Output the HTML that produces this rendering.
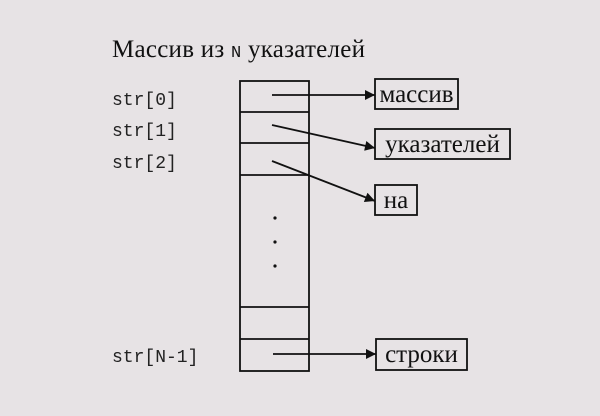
<!DOCTYPE html>
<html><head><meta charset="utf-8"><style>
html,body{margin:0;padding:0;background:#e7e3e5;}
svg{display:block}
</style></head><body>
<svg width="600" height="416" xmlns="http://www.w3.org/2000/svg">
<rect width="600" height="416" fill="#e7e3e5"/>
<defs><marker id="a" viewBox="0 0 10 10" refX="10" refY="5" markerWidth="13" markerHeight="10" markerUnits="userSpaceOnUse" orient="auto"><path d="M0,0 L10,5 L0,10 z" fill="#111"/></marker></defs>
<text x="112" y="57" font-family="Liberation Serif, serif" font-size="25" fill="#111" textLength="253">Массив из <tspan font-family="Liberation Mono, monospace" font-size="17">N</tspan> указателей</text>
<g font-family="Liberation Mono, DejaVu Sans Mono, monospace" font-size="18" fill="#222">
<text x="112" y="105">str[0]</text>
<text x="112" y="136">str[1]</text>
<text x="112" y="168">str[2]</text>
<text x="112" y="362">str[N-1]</text>
</g>
<g stroke="#111" stroke-width="1.8" fill="none">
<rect x="240" y="81" width="69" height="290"/>
<line x1="240" y1="112" x2="309" y2="112"/>
<line x1="240" y1="143" x2="309" y2="143"/>
<line x1="240" y1="175" x2="309" y2="175"/>
<line x1="240" y1="307" x2="309" y2="307"/>
<line x1="240" y1="339" x2="309" y2="339"/>
<rect x="375" y="79" width="83" height="30"/>
<rect x="375" y="129" width="135" height="30"/>
<rect x="375" y="185" width="42" height="30"/>
<rect x="376" y="339" width="91" height="31"/>
<line x1="272" y1="95" x2="375" y2="95" marker-end="url(#a)"/>
<line x1="272" y1="125" x2="375" y2="148" marker-end="url(#a)"/>
<line x1="272" y1="161" x2="375" y2="201" marker-end="url(#a)"/>
<line x1="273" y1="354" x2="376" y2="354" marker-end="url(#a)"/>
</g>
<g fill="#111"><circle cx="275" cy="218" r="1.6"/><circle cx="275" cy="242" r="1.6"/><circle cx="275" cy="266" r="1.6"/></g>
<g font-family="Liberation Serif, serif" font-size="25" fill="#111" text-anchor="middle">
<text x="416.5" y="102">массив</text>
<text x="442.5" y="152">указателей</text>
<text x="396" y="208">на</text>
<text x="421.5" y="362">строки</text>
</g>
</svg>
</body></html>
